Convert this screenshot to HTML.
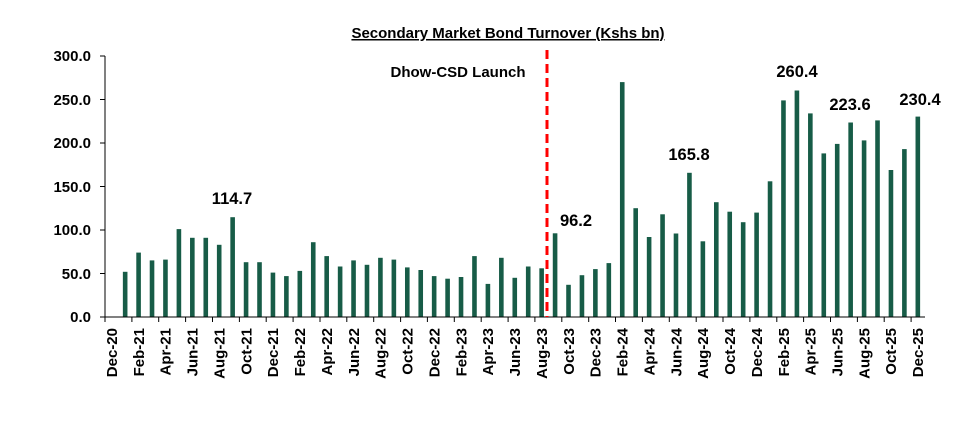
<!DOCTYPE html>
<html><head><meta charset="utf-8"><style>
body{margin:0;background:#fff}
svg text{font-family:"Liberation Sans",sans-serif;font-weight:bold;fill:#000}
</style></head><body>
<svg width="974" height="420" viewBox="0 0 974 420" xmlns="http://www.w3.org/2000/svg">
<text x="508" y="38" text-anchor="middle" font-size="15" text-decoration="underline">Secondary Market Bond Turnover (Kshs bn)</text>
<g fill="#175c47">
<rect x="122.86" y="271.8" width="4.6" height="45.2"/>
<rect x="136.29" y="252.6" width="4.6" height="64.4"/>
<rect x="149.73" y="260.4" width="4.6" height="56.6"/>
<rect x="163.16" y="259.6" width="4.6" height="57.4"/>
<rect x="176.60" y="229.1" width="4.6" height="87.9"/>
<rect x="190.03" y="237.8" width="4.6" height="79.2"/>
<rect x="203.47" y="237.8" width="4.6" height="79.2"/>
<rect x="216.90" y="244.8" width="4.6" height="72.2"/>
<rect x="230.34" y="217.2" width="4.6" height="99.8"/>
<rect x="243.77" y="262.2" width="4.6" height="54.8"/>
<rect x="257.21" y="262.2" width="4.6" height="54.8"/>
<rect x="270.64" y="272.6" width="4.6" height="44.4"/>
<rect x="284.08" y="276.1" width="4.6" height="40.9"/>
<rect x="297.51" y="270.9" width="4.6" height="46.1"/>
<rect x="310.95" y="242.2" width="4.6" height="74.8"/>
<rect x="324.38" y="256.1" width="4.6" height="60.9"/>
<rect x="337.82" y="266.5" width="4.6" height="50.5"/>
<rect x="351.25" y="260.4" width="4.6" height="56.6"/>
<rect x="364.69" y="264.8" width="4.6" height="52.2"/>
<rect x="378.12" y="257.8" width="4.6" height="59.2"/>
<rect x="391.56" y="259.6" width="4.6" height="57.4"/>
<rect x="404.99" y="267.4" width="4.6" height="49.6"/>
<rect x="418.43" y="270.0" width="4.6" height="47.0"/>
<rect x="431.86" y="276.1" width="4.6" height="40.9"/>
<rect x="445.30" y="278.7" width="4.6" height="38.3"/>
<rect x="458.73" y="277.0" width="4.6" height="40.0"/>
<rect x="472.17" y="256.1" width="4.6" height="60.9"/>
<rect x="485.60" y="283.9" width="4.6" height="33.1"/>
<rect x="499.04" y="257.8" width="4.6" height="59.2"/>
<rect x="512.47" y="277.8" width="4.6" height="39.2"/>
<rect x="525.91" y="266.5" width="4.6" height="50.5"/>
<rect x="539.34" y="268.3" width="4.6" height="48.7"/>
<rect x="552.78" y="233.3" width="4.6" height="83.7"/>
<rect x="566.21" y="284.8" width="4.6" height="32.2"/>
<rect x="579.65" y="275.2" width="4.6" height="41.8"/>
<rect x="593.08" y="269.1" width="4.6" height="47.9"/>
<rect x="606.52" y="263.1" width="4.6" height="53.9"/>
<rect x="619.95" y="82.1" width="4.6" height="234.9"/>
<rect x="633.39" y="208.2" width="4.6" height="108.8"/>
<rect x="646.82" y="237.0" width="4.6" height="80.0"/>
<rect x="660.26" y="214.3" width="4.6" height="102.7"/>
<rect x="673.69" y="233.5" width="4.6" height="83.5"/>
<rect x="687.13" y="172.8" width="4.6" height="144.2"/>
<rect x="700.56" y="241.3" width="4.6" height="75.7"/>
<rect x="714.00" y="202.2" width="4.6" height="114.8"/>
<rect x="727.43" y="211.7" width="4.6" height="105.3"/>
<rect x="740.87" y="222.2" width="4.6" height="94.8"/>
<rect x="754.30" y="212.6" width="4.6" height="104.4"/>
<rect x="767.74" y="181.3" width="4.6" height="135.7"/>
<rect x="781.17" y="100.4" width="4.6" height="216.6"/>
<rect x="794.61" y="90.5" width="4.6" height="226.5"/>
<rect x="808.04" y="113.4" width="4.6" height="203.6"/>
<rect x="821.48" y="153.4" width="4.6" height="163.6"/>
<rect x="834.91" y="143.9" width="4.6" height="173.1"/>
<rect x="848.35" y="122.5" width="4.6" height="194.5"/>
<rect x="861.78" y="140.4" width="4.6" height="176.6"/>
<rect x="875.22" y="120.4" width="4.6" height="196.6"/>
<rect x="888.65" y="170.0" width="4.6" height="147.0"/>
<rect x="902.09" y="149.1" width="4.6" height="167.9"/>
<rect x="915.52" y="116.6" width="4.6" height="200.4"/>
</g>
<line x1="105" y1="56" x2="105" y2="317" stroke="#000" stroke-width="1"/>
<line x1="105" y1="317" x2="925" y2="317" stroke="#000" stroke-width="1"/>
<path d="M100 56H105M100 99.5H105M100 143H105M100 186.5H105M100 230H105M100 273.5H105M100 317H105" stroke="#000"/>
<path d="M105 317v5M131.9 317v5M158.7 317v5M185.6 317v5M212.5 317v5M239.4 317v5M266.2 317v5M293.1 317v5M320 317v5M346.8 317v5M373.7 317v5M400.6 317v5M427.4 317v5M454.3 317v5M481.2 317v5M508.1 317v5M534.9 317v5M561.8 317v5M588.7 317v5M615.5 317v5M642.4 317v5M669.3 317v5M696.2 317v5M723 317v5M749.9 317v5M776.8 317v5M803.6 317v5M830.5 317v5M857.4 317v5M884.2 317v5M911.1 317v5" stroke="#000"/>
<g font-size="15" text-anchor="end">
<text x="91" y="322">0.0</text><text x="91" y="279">50.0</text><text x="91" y="235">100.0</text>
<text x="91" y="192">150.0</text><text x="91" y="148">200.0</text><text x="91" y="105">250.0</text><text x="91" y="61">300.0</text>
</g>
<g font-size="15" text-anchor="end">
<text transform="translate(117,328) rotate(-90)">Dec-20</text>
<text transform="translate(143.9,328) rotate(-90)">Feb-21</text>
<text transform="translate(170.7,328) rotate(-90)">Apr-21</text>
<text transform="translate(197.6,328) rotate(-90)">Jun-21</text>
<text transform="translate(224.5,328) rotate(-90)">Aug-21</text>
<text transform="translate(251.4,328) rotate(-90)">Oct-21</text>
<text transform="translate(278.2,328) rotate(-90)">Dec-21</text>
<text transform="translate(305.1,328) rotate(-90)">Feb-22</text>
<text transform="translate(332.0,328) rotate(-90)">Apr-22</text>
<text transform="translate(358.8,328) rotate(-90)">Jun-22</text>
<text transform="translate(385.7,328) rotate(-90)">Aug-22</text>
<text transform="translate(412.6,328) rotate(-90)">Oct-22</text>
<text transform="translate(439.4,328) rotate(-90)">Dec-22</text>
<text transform="translate(466.3,328) rotate(-90)">Feb-23</text>
<text transform="translate(493.2,328) rotate(-90)">Apr-23</text>
<text transform="translate(520.1,328) rotate(-90)">Jun-23</text>
<text transform="translate(546.9,328) rotate(-90)">Aug-23</text>
<text transform="translate(573.8,328) rotate(-90)">Oct-23</text>
<text transform="translate(600.7,328) rotate(-90)">Dec-23</text>
<text transform="translate(627.5,328) rotate(-90)">Feb-24</text>
<text transform="translate(654.4,328) rotate(-90)">Apr-24</text>
<text transform="translate(681.3,328) rotate(-90)">Jun-24</text>
<text transform="translate(708.2,328) rotate(-90)">Aug-24</text>
<text transform="translate(735.0,328) rotate(-90)">Oct-24</text>
<text transform="translate(761.9,328) rotate(-90)">Dec-24</text>
<text transform="translate(788.8,328) rotate(-90)">Feb-25</text>
<text transform="translate(815.6,328) rotate(-90)">Apr-25</text>
<text transform="translate(842.5,328) rotate(-90)">Jun-25</text>
<text transform="translate(869.4,328) rotate(-90)">Aug-25</text>
<text transform="translate(896.2,328) rotate(-90)">Oct-25</text>
<text transform="translate(923.1,328) rotate(-90)">Dec-25</text>
</g>
<line x1="547" y1="50" x2="547" y2="317" stroke="#f00" stroke-width="3" stroke-dasharray="9,5"/>
<text x="458" y="77" text-anchor="middle" font-size="15">Dhow-CSD Launch</text>
<g font-size="16.5" text-anchor="middle">
<text x="232" y="204">114.7</text><text x="576" y="226">96.2</text><text x="689" y="160">165.8</text>
<text x="797" y="77">260.4</text><text x="850" y="110">223.6</text><text x="920" y="105">230.4</text>
</g>
</svg>
</body></html>
